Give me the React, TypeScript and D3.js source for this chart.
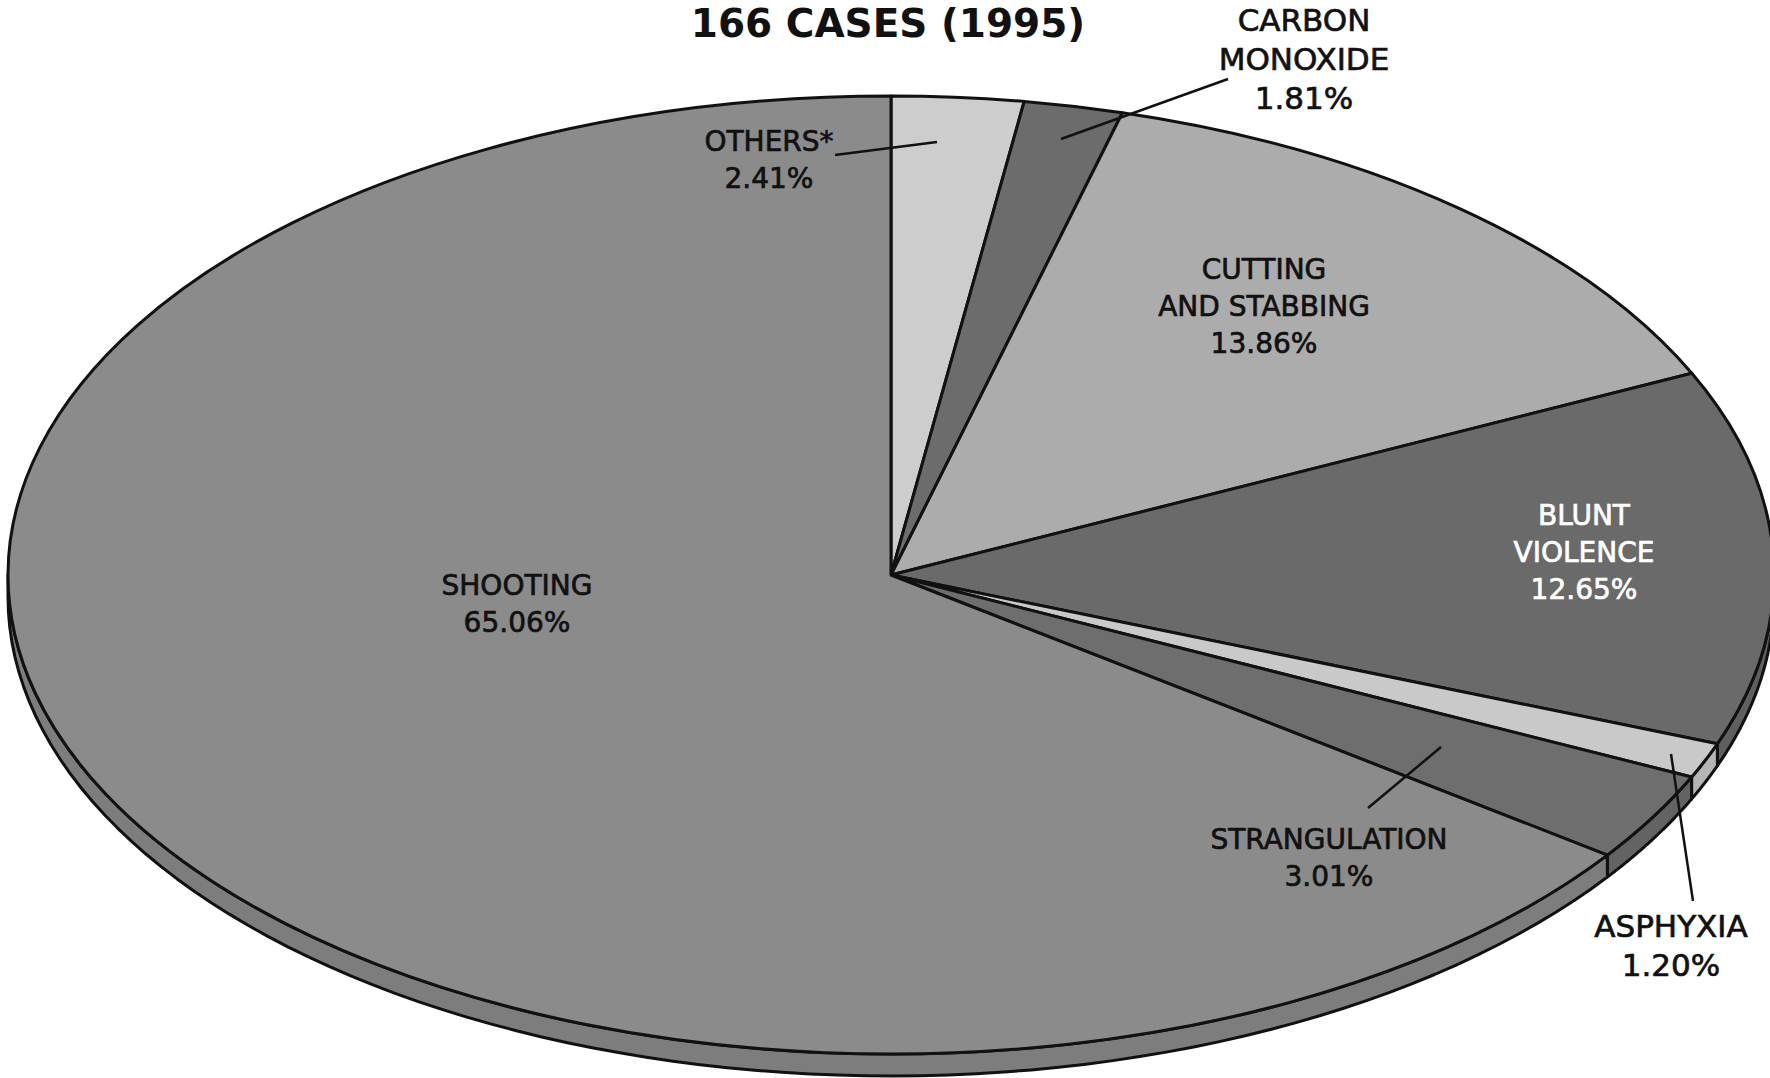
import React from "react";
import * as d3 from "d3";

const title = "166 CASES (1995)";
const categories = [
  "OTHERS*",
  "CARBON MONOXIDE",
  "CUTTING AND STABBING",
  "BLUNT VIOLENCE",
  "ASPHYXIA",
  "STRANGULATION",
  "SHOOTING",
];
const values = [2.41, 1.81, 13.86, 12.65, 1.2, 3.01, 65.06];
const labelLines = [
  ["OTHERS*"],
  ["CARBON", "MONOXIDE"],
  ["CUTTING", "AND STABBING"],
  ["BLUNT", "VIOLENCE"],
  ["ASPHYXIA"],
  ["STRANGULATION"],
  ["SHOOTING"],
];
const fills = ["#cdcdcd", "#6c6c6c", "#acacac", "#6a6a6a", "#c9c9c9", "#6e6e6e", "#8b8b8b"];

const W = 1770;
const H = 1078;
const cx = 891;
const cy = 575;
const rx = 883;
const ry = 479;
const depth = 22;

// label placement: [x, y of first line, line gap, font size, color]
const labelPos: [number, number, number, number, string][] = [
  [769, 141, 37, 28, "#111"],
  [1304, 20, 39, 31, "#111"],
  [1264, 269, 37, 28, "#111"],
  [1584, 515, 37, 28, "#fff"],
  [1671, 926, 39, 31, "#111"],
  [1329, 839, 37, 28, "#111"],
  [517, 585, 37, 28, "#111"],
];
const leaders: ([number, number, number, number] | null)[] = [
  [835, 155, 937, 142],
  [1228, 79, 1061, 139],
  null,
  null,
  [1693, 901, 1671, 754],
  [1368, 808, 1441, 747],
  null,
];

const ex = (a: number) => cx + rx * Math.sin(a);
const ey = (a: number) => cy - ry * Math.cos(a);

export default function App() {
  const pie = d3.pie<number>().sort(null).value((d) => d);
  const arcs = pie(values);
  const arc = d3.arc<d3.PieArcDatum<number>>().innerRadius(0).outerRadius(rx);
  const line = d3
    .line<[number, number]>()
    .x((d) => d[0])
    .y((d) => d[1]);

  const rims = arcs.map((a, i) => {
    const a0 = Math.max(a.startAngle, Math.PI / 2);
    const a1 = Math.min(a.endAngle, (3 * Math.PI) / 2);
    if (a1 <= a0) return null;
    const n = 80;
    const ts = d3.range(n + 1).map((k) => a0 + ((a1 - a0) * k) / n);
    const top = ts.map((t) => [ex(t), ey(t)] as [number, number]);
    const bot = ts
      .slice()
      .reverse()
      .map((t) => [ex(t), ey(t) + depth] as [number, number]);
    const c = d3.color(fills[i])!.darker(0.3).formatHex();
    return { d: line([...top, ...bot])! + "Z", fill: c, key: i };
  });

  const pct = (v: number) => v.toFixed(2) + "%";

  return (
    <svg
      width={W}
      height={H}
      style={{ position: "absolute", left: 0, top: 0, background: "#fff" }}
      fontFamily="'DejaVu Sans', sans-serif"
    >
      <text
        x={888}
        y={37}
        textAnchor="middle"
        fontSize={39}
        fontWeight="bold"
        fill="#111"
      >
        {title}
      </text>

      {rims.map(
        (r) =>
          r && (
            <path
              key={r.key}
              d={r.d}
              fill={r.fill}
              stroke="#111"
              strokeWidth={3}
              strokeLinejoin="round"
            />
          )
      )}

      <g transform={`translate(${cx},${cy}) scale(1,${ry / rx})`}>
        {arcs.map((a, i) => (
          <path
            key={categories[i]}
            d={arc(a)!}
            fill={fills[i]}
            stroke="#111"
            strokeWidth={3}
            strokeLinejoin="round"
            vectorEffect="non-scaling-stroke"
          />
        ))}
      </g>

      {leaders.map(
        (l, i) =>
          l && (
            <line
              key={"l" + i}
              x1={l[0]}
              y1={l[1]}
              x2={l[2]}
              y2={l[3]}
              stroke="#111"
              strokeWidth={2.5}
            />
          )
      )}

      {labelLines.map((lines, i) => {
        const [x, y, gap, fs, col] = labelPos[i];
        const all = [...lines, pct(values[i])];
        return (
          <text
            key={"t" + i}
            x={x}
            textAnchor="middle"
            fontSize={fs}
            fill={col}
            stroke={col}
            strokeWidth={0.7}
            dominantBaseline="central"
          >
            {all.map((s, k) => (
              <tspan key={k} x={x} y={y + k * gap}>
                {s}
              </tspan>
            ))}
          </text>
        );
      })}
    </svg>
  );
}
